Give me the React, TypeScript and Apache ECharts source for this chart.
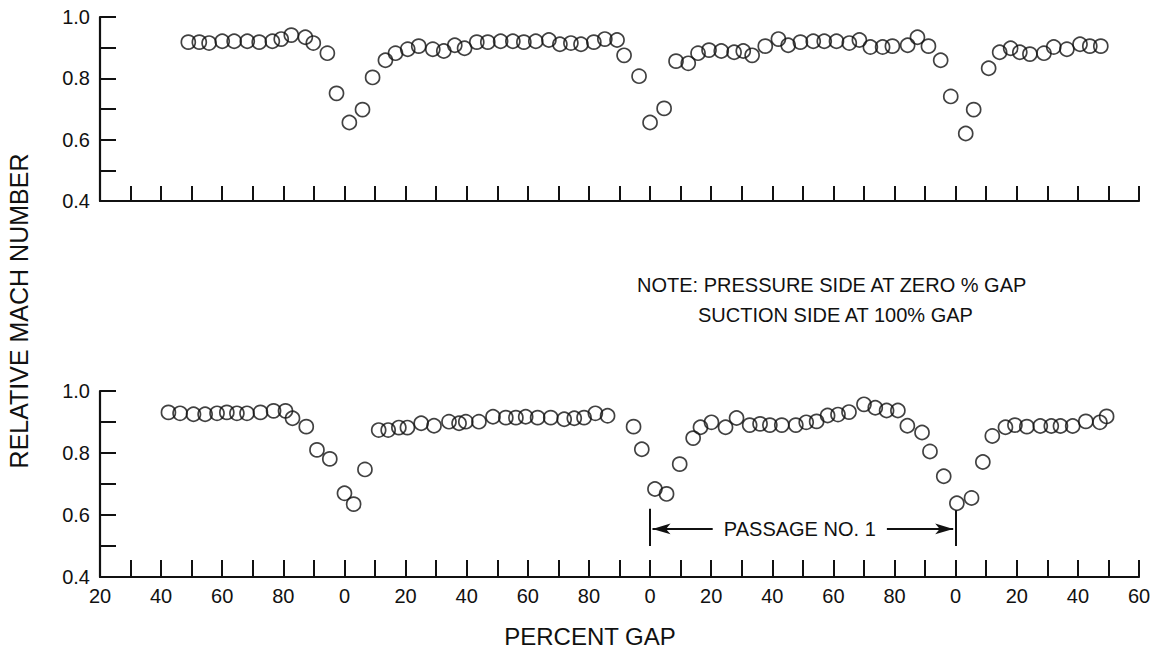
import React, { useEffect, useRef } from 'react';
import * as echarts from 'echarts';

// Continuous gap coordinate: each passage spans 100 units; labels show value mod 100
const xTickLabels = ['20', '40', '60', '80', '0', '20', '40', '60', '80', '0', '20', '40', '60', '80', '0', '20', '40', '60'];
const yTickLabels = ['0.4', '0.6', '0.8', '1.0'];

const topX = [
  48.9, 52.5, 55.7, 60.0, 63.9, 68.2, 72.1, 76.4, 79.3, 82.6,
  87.2, 89.8, 94.4, 97.4, 101.6, 105.9, 109.2, 113.4, 116.7, 120.7,
  124.3, 128.9, 132.5, 136.1, 139.3, 143.3, 146.9, 151.1, 155.1, 158.7,
  162.6, 166.9, 170.5, 174.1, 177.4, 181.6, 185.2, 189.2, 191.5, 196.4,
  200.0, 204.6, 208.5, 212.5, 215.7, 219.3, 223.3, 227.5, 230.5, 233.4,
  237.7, 242.0, 245.2, 249.2, 253.4, 257.0, 261.0, 265.2, 268.5, 272.1,
  276.1, 279.3, 284.3, 287.5, 291.1, 295.1, 298.4, 303.3, 305.9, 310.8,
  314.4, 318.0, 321.0, 324.3, 328.9, 332.1, 336.4, 340.7, 343.9, 347.5,
];
const topY = [
  0.918, 0.918, 0.915, 0.921, 0.921, 0.921, 0.918, 0.921, 0.928, 0.941,
  0.934, 0.915, 0.882, 0.751, 0.656, 0.698, 0.803, 0.859, 0.882, 0.895,
  0.905, 0.895, 0.889, 0.908, 0.898, 0.918, 0.918, 0.921, 0.921, 0.918,
  0.921, 0.925, 0.911, 0.915, 0.911, 0.918, 0.928, 0.925, 0.875, 0.807,
  0.656, 0.702, 0.856, 0.849, 0.882, 0.892, 0.889, 0.885, 0.889, 0.875,
  0.905, 0.928, 0.908, 0.918, 0.921, 0.921, 0.921, 0.915, 0.925, 0.902,
  0.902, 0.905, 0.908, 0.934, 0.905, 0.859, 0.741, 0.620, 0.698, 0.833,
  0.885, 0.898, 0.885, 0.879, 0.882, 0.902, 0.895, 0.911, 0.905, 0.905,
];

const bottomX = [
  42.4, 46.2, 50.6, 54.4, 58.3, 61.5, 64.8, 68.1, 72.5, 76.8,
  80.7, 83.0, 87.5, 91.0, 95.2, 100.0, 103.0, 106.7, 111.2, 114.3,
  117.8, 120.6, 125.1, 129.3, 134.2, 137.5, 139.7, 144.0, 148.6, 152.8,
  156.1, 159.3, 163.2, 167.5, 171.9, 175.2, 178.4, 182.1, 186.1, 194.6,
  197.3, 201.6, 205.4, 209.7, 214.1, 216.5, 220.1, 224.7, 228.3, 232.6,
  236.0, 239.2, 243.1, 247.7, 251.1, 254.5, 258.1, 261.5, 265.1, 270.0,
  273.7, 277.4, 281.1, 284.2, 289.0, 291.6, 296.1, 300.4, 305.2, 308.9,
  312.0, 316.3, 319.4, 323.3, 327.7, 331.3, 334.3, 338.3, 342.6, 347.2,
  349.4,
];
const bottomY = [
  0.931, 0.928, 0.925, 0.925, 0.928, 0.931, 0.928, 0.928, 0.931, 0.936,
  0.936, 0.912, 0.885, 0.810, 0.781, 0.670, 0.635, 0.747, 0.874, 0.874,
  0.882, 0.882, 0.896, 0.888, 0.901, 0.896, 0.901, 0.901, 0.917, 0.914,
  0.914, 0.917, 0.914, 0.914, 0.909, 0.912, 0.914, 0.928, 0.920, 0.885,
  0.812, 0.684, 0.668, 0.764, 0.848, 0.883, 0.899, 0.883, 0.913, 0.890,
  0.894, 0.890, 0.890, 0.890, 0.899, 0.902, 0.921, 0.924, 0.932, 0.957,
  0.946, 0.937, 0.937, 0.888, 0.866, 0.805, 0.725, 0.638, 0.655, 0.771,
  0.855, 0.883, 0.890, 0.885, 0.887, 0.887, 0.887, 0.887, 0.902, 0.899,
  0.918,
];

// Passage No. 1 spans from 0% (x=200) to 100% (x=300) of the continuous gap coordinate
const passageStart = 200;
const passageEnd = 300;

export default function App() {
  const ref = useRef<HTMLDivElement>(null);

  useEffect(() => {
    if (!ref.current) return;
    const chart = echarts.init(ref.current, null, { renderer: 'svg' });
    const font = '"Liberation Sans", Arial, Helvetica, sans-serif';
    const ink = '#111';

    const xAxis = (gridIndex: number, showLabels: boolean, tickLen: number) => ({
      type: 'value',
      gridIndex,
      min: 20,
      max: 360,
      interval: 10,
      axisLine: { show: true, onZero: false, lineStyle: { color: ink, width: 2.2 } },
      axisTick: { show: true, inside: true, length: tickLen, lineStyle: { color: ink, width: 2 } },
      axisLabel: {
        show: showLabels,
        color: ink,
        fontSize: 20,
        fontFamily: font,
        margin: 9,
        formatter: (v: number) => {
          const r = Math.round(v);
          if (r % 20 !== 0) return '';
          const idx = (r - 20) / 20;
          return xTickLabels[idx] ?? '';
        },
      },
      splitLine: { show: false },
    });

    const yAxis = (gridIndex: number) => ({
      type: 'value',
      gridIndex,
      min: 0.4,
      max: 1.0,
      interval: 0.1,
      axisLine: { show: true, onZero: false, lineStyle: { color: ink, width: 2.2 } },
      axisTick: { show: true, inside: true, length: 16, lineStyle: { color: ink, width: 2 } },
      axisLabel: {
        color: ink,
        fontSize: 20,
        fontFamily: font,
        margin: 10,
        formatter: (v: number) => {
          const t = Math.round(v * 10);
          if (t % 2 !== 0) return '';
          return yTickLabels[(t - 4) / 2] ?? '';
        },
      },
      splitLine: { show: false },
    });

    const marker = {
      symbol: 'circle',
      symbolSize: 14,
      itemStyle: { color: 'rgba(0,0,0,0)', borderColor: ink, borderWidth: 1.7 },
    };

    chart.setOption({
      animation: false,
      backgroundColor: '#fff',
      grid: [
        { left: 100, top: 17, width: 1039, height: 184 },
        { left: 100, top: 391, width: 1039, height: 186 },
      ],
      xAxis: [xAxis(0, false, 15), xAxis(1, true, 17)],
      yAxis: [yAxis(0), yAxis(1)],
      series: [
        {
          type: 'scatter',
          xAxisIndex: 0,
          yAxisIndex: 0,
          data: topX.map((x, i) => [x, topY[i]]),
          ...marker,
        },
        {
          type: 'scatter',
          xAxisIndex: 1,
          yAxisIndex: 1,
          data: bottomX.map((x, i) => [x, bottomY[i]]),
          ...marker,
          markLine: {
            silent: true,
            symbol: ['none', 'none'],
            lineStyle: { color: ink, width: 2, type: 'solid' },
            label: { show: false },
            emphasis: { disabled: true },
            data: [
              [{ coord: [passageStart, 0.5] }, { coord: [passageStart, 0.62] }],
              [{ coord: [passageEnd, 0.5] }, { coord: [passageEnd, 0.615] }],
              [
                { coord: [220.5, 0.555], symbol: 'none' },
                { coord: [passageStart + 0.8, 0.555], symbol: 'arrow', symbolSize: [8, 18] },
              ],
              [
                { coord: [277.5, 0.555], symbol: 'none' },
                { coord: [passageEnd - 0.8, 0.555], symbol: 'arrow', symbolSize: [8, 18] },
              ],
            ],
          },
          markPoint: {
            silent: true,
            symbol: 'rect',
            symbolSize: 1,
            itemStyle: { color: 'rgba(0,0,0,0)' },
            data: [
              {
                coord: [249, 0.555],
                label: {
                  show: true,
                  position: 'inside',
                  formatter: 'PASSAGE NO. 1',
                  color: ink,
                  fontSize: 20,
                  fontFamily: font,
                },
              },
            ],
          },
        },
      ],
      graphic: [
        {
          type: 'text',
          x: 19,
          y: 311,
          rotation: Math.PI / 2,
          style: {
            text: 'RELATIVE MACH NUMBER',
            fill: ink,
            fontSize: 25,
            fontFamily: font,
            align: 'center',
            verticalAlign: 'middle',
          },
        },
        {
          type: 'text',
          x: 590,
          y: 636,
          style: {
            text: 'PERCENT GAP',
            fill: ink,
            fontSize: 24,
            fontFamily: font,
            align: 'center',
            verticalAlign: 'middle',
          },
        },
        {
          type: 'text',
          x: 637,
          y: 285,
          style: {
            text: 'NOTE: PRESSURE SIDE AT ZERO % GAP',
            fill: ink,
            fontSize: 20,
            fontFamily: font,
            align: 'left',
            verticalAlign: 'middle',
          },
        },
        {
          type: 'text',
          x: 698,
          y: 315,
          style: {
            text: 'SUCTION SIDE AT 100% GAP',
            fill: ink,
            fontSize: 20,
            fontFamily: font,
            align: 'left',
            verticalAlign: 'middle',
          },
        },
      ],
    });

    return () => chart.dispose();
  }, []);

  return (
    <div
      ref={ref}
      style={{ position: 'absolute', left: 0, top: 0, width: 1160, height: 649, background: '#fff' }}
    />
  );
}
